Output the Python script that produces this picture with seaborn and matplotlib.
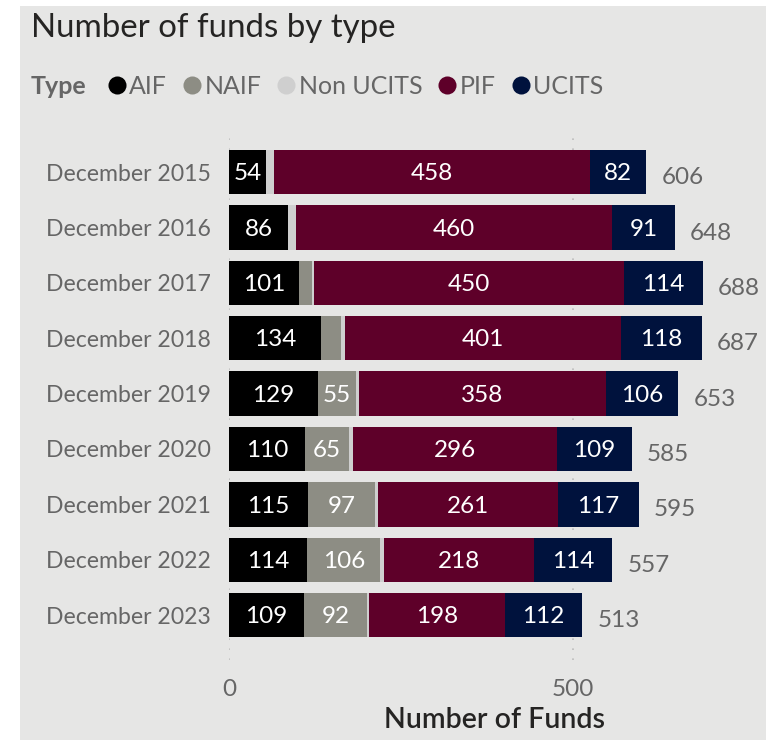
import matplotlib
matplotlib.use("Agg")
import matplotlib.pyplot as plt
from matplotlib.lines import Line2D
from matplotlib.patches import Rectangle
import numpy as np
import pandas as pd
import seaborn as sns

# Fund counts per fund type at each year end
periods = ["December 2015", "December 2016", "December 2017", "December 2018",
           "December 2019", "December 2020", "December 2021", "December 2022",
           "December 2023"]
aif = [54, 86, 101, 134, 129, 110, 115, 114, 109]
naif = [0, 0, 19, 29, 55, 65, 97, 106, 92]
non_ucits = [12, 11, 4, 5, 5, 5, 5, 5, 2]
pif = [458, 460, 450, 401, 358, 296, 261, 218, 198]
ucits = [82, 91, 114, 118, 106, 109, 117, 114, 112]

types = ["AIF", "NAIF", "Non UCITS", "PIF", "UCITS"]
colors = ["#000000", "#8D8D84", "#CFCFCF", "#5E0029", "#00123D"]
series = [aif, naif, non_ucits, pif, ucits]

df = pd.DataFrame({"period": periods})
for name, vals in zip(types, series):
    df[name] = vals
cum = df[types].cumsum(axis=1)
df["Total"] = cum["UCITS"]

sns.set_theme(style="white")
plt.rcParams["font.family"] = ["Lato", "DejaVu Sans"]

BG = "#E6E6E5"
W, H = 766, 740
fig = plt.figure(figsize=(W / 100, H / 100), dpi=100)
fig.patch.set_facecolor("white")
fig.patches.append(Rectangle((20 / W, 0), 1 - 20 / W, (H - 6) / H,
                             transform=fig.transFigure, facecolor=BG,
                             edgecolor="none", zorder=-5))

ax = fig.add_axes([229 / W, 1 - 660 / H, 530 / W, 530 / H])
ax.set_facecolor(BG)

# stacked bars: draw cumulative totals from the outermost layer inward
for name, col in reversed(list(zip(types, colors))):
    sns.barplot(data=pd.DataFrame({"period": periods, "v": cum[name]}),
                x="v", y="period", orient="h", color=col, saturation=1,
                width=0.8, linewidth=0, ax=ax, zorder=3)

# segment labels
for i in range(len(periods)):
    for name in types:
        v = df.loc[i, name]
        if v >= 40:
            center = cum.loc[i, name] - v / 2
            ax.text(center, i + 0.03, f"{v}", ha="center", va="center",
                    color="white", fontsize=17.5, zorder=5)
    ax.text(df.loc[i, "Total"] + 22, i + 0.1, f"{df.loc[i, 'Total']}",
            ha="left", va="center", color="#666666", fontsize=17.5, zorder=5)

ax.set_xlim(0, 770)
ax.set_ylim(len(periods) - 1 + 0.81, -0.76)
ax.set_xticks([0, 500])
ax.set_xticklabels(["0", "500"])
ax.xaxis.grid(True, linestyle=(0, (1, 5)), color="#BDBDBD", linewidth=1.2, zorder=0)
ax.yaxis.grid(False)
ax.set_axisbelow(True)
for s in ax.spines.values():
    s.set_visible(False)
ax.tick_params(axis="x", length=0, labelsize=17.5, colors="#666666", pad=14)
ax.tick_params(axis="y", length=0, labelsize=16.6, colors="#666666", pad=13)
ax.set_ylabel("")
ax.set_xlabel("Number of Funds", fontsize=20.5, color="#252423", labelpad=5,
              fontweight="semibold")

fig.text(31 / W, 1 - 28 / H, "Number of funds by type", fontsize=23.8,
         color="#252423", va="center", ha="left")
fig.text(31 / W, 1 - 86 / H, "Type", fontsize=18, fontweight="bold",
         color="#666666", va="center", ha="left")

handles = [Line2D([], [], marker="o", linestyle="none", markersize=13,
                  markerfacecolor=c, markeredgecolor="none") for c in colors]
fig.legend(handles, types, loc="center left", bbox_to_anchor=(104 / W, 1 - 86 / H),
           ncol=5, frameon=False, handletextpad=0.0, columnspacing=0.5,
           handlelength=1.0, fontsize=18, labelcolor="#666666",
           borderaxespad=0, borderpad=0)

fig.savefig("out.png", dpi=100, facecolor="white")
